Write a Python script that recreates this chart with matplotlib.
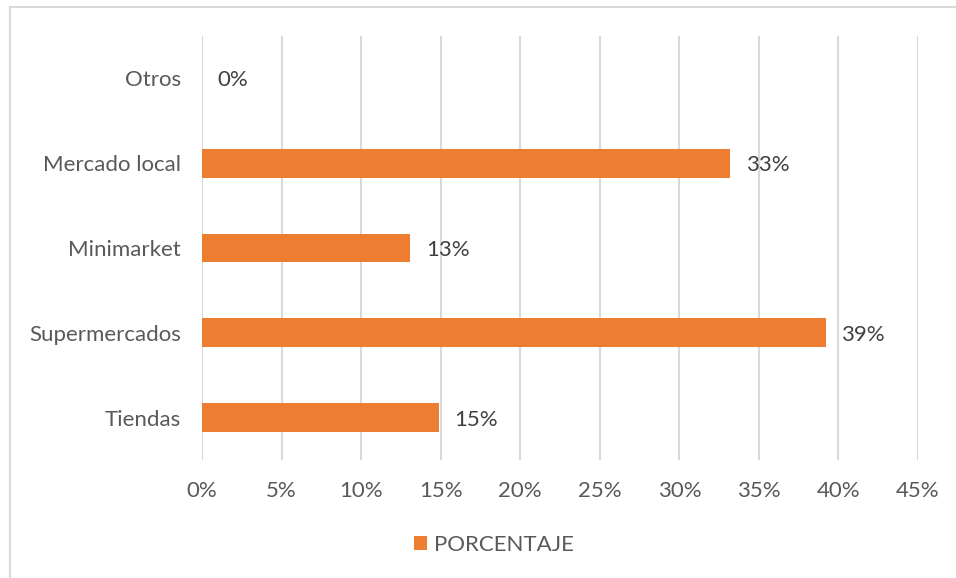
import matplotlib
matplotlib.use("Agg")
import matplotlib.pyplot as plt
from matplotlib.lines import Line2D

categories = ["Tiendas", "Supermercados", "Minimarket", "Mercado local", "Otros"]
values = [14.9, 39.2, 13.1, 33.2, 0.0]
labels = ["15%", "39%", "13%", "33%", "0%"]
xticks = [0, 5, 10, 15, 20, 25, 30, 35, 40, 45]
series_name = "PORCENTAJE"

plt.rcParams['font.family'] = ['Lato', 'DejaVu Sans']
txt = "#595959"
fs = 16
W, H = 956, 578
fig = plt.figure(figsize=(W / 100, H / 100), dpi=100)
# outer chart border (only top and left visible in the reference)
fig.add_artist(Line2D([10 / W, 10 / W], [0, 1 - 7 / H], transform=fig.transFigure,
                      color="#D9D9D9", linewidth=1.5))
fig.add_artist(Line2D([10 / W, 1], [1 - 7 / H, 1 - 7 / H], transform=fig.transFigure,
                      color="#D9D9D9", linewidth=1.5))
ax = fig.add_axes([202 / W, (H - 460) / H, (918 - 202) / W, (460 - 36) / H])
y = list(range(len(categories)))
bars = ax.barh(y, values, height=0.34, color="#ED7D31", label=series_name, zorder=3)
ax.set_xlim(0, 45)
ax.set_ylim(-0.5, len(categories) - 0.5)
ax.set_xticks(xticks)
ax.set_xticklabels([f"{t}%" for t in xticks], fontsize=fs, color=txt)
ax.set_yticks(y)
ax.set_yticklabels(categories, fontsize=fs, color=txt)
ax.tick_params(length=0, pad=15, axis="y")
ax.tick_params(length=0, pad=15, axis="x")
ax.grid(axis="x", color="#D9D9D9", linewidth=1.5, zorder=0)
for s in ax.spines.values():
    s.set_visible(False)
for yi, v, lab in zip(y, values, labels):
    ax.annotate(lab, (v, yi), xytext=(11, -1.5), textcoords="offset points",
                va="center", ha="left", fontsize=fs, color="#404040")
leg = fig.legend(handles=[bars], labels=[series_name], loc="center",
                 bbox_to_anchor=(494 / W, 1 - 545 / H), frameon=False,
                 fontsize=fs, handlelength=0.6, handleheight=0.6, handletextpad=0.3)
for t in leg.get_texts():
    t.set_color(txt)
fig.savefig("out.png", dpi=100)
